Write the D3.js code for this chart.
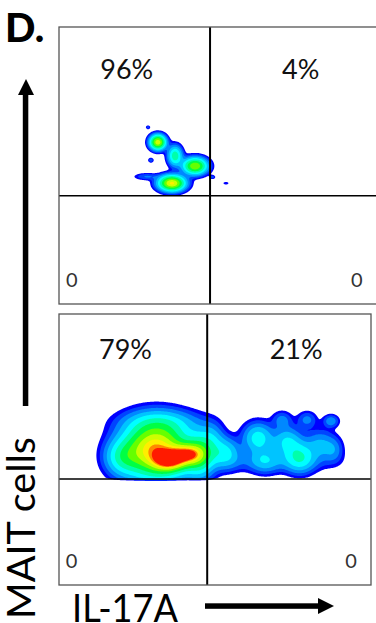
<!DOCTYPE html>
<html><head><meta charset="utf-8">
<script src="https://cdn.jsdelivr.net/npm/d3@7"></script>
<style>html,body{margin:0;padding:0;background:#fff;overflow:hidden}svg{display:block}</style>
</head><body>
<svg id="chart" width="376" height="623"></svg>
<script>
// ---------- data ----------
const panelNames = ["unstimulated", "stimulated"];
const quadUpperLeft = ["96%", "79%"];
const quadUpperRight = ["4%", "21%"];
const quadLowerLeft = ["0", "0"];
const quadLowerRight = ["0", "0"];
const xAxisLabel = "IL-17A";
const yAxisLabel = "MAIT cells";
const panelLetter = "D.";
const xGate = 47.5;   // IL-17A gate (data units 0-100)
const yGate = 39.1;   // MAIT gate (data units 0-100)
// density clusters: [IL-17A centre, MAIT centre, spread x, spread y, weight]
const clustersTop = [
  [31.1, 58.4, 1.5, 1.6, 0.75],
  [36.5, 53.5, 1.4, 2.2, 0.34],
  [42.8, 49.8, 2.3, 1.8, 0.64],
  [35.5, 43.6, 2.5, 1.7, 0.82],
  [27.5, 46.0, 2.4, 0.8, 0.07],
  [28.0, 63.8, 0.5, 0.5, 0.05],
  [28.9, 51.9, 0.6, 0.6, 0.06],
  [48.3, 45.8, 0.6, 0.5, 0.05],
  [52.5, 43.6, 0.7, 0.4, 0.04]
];
const clustersBottom = [
  [35.5, 45.8, 3.4, 2.4, 0.68],
  [41.0, 48.2, 3.4, 2.4, 0.68],
  [31.0, 50.0, 6.3, 6.2, 0.92],
  [33.0, 60.0, 8.0, 3.0, 0.12],
  [20.5, 47.0, 3.5, 4.0, 0.22],
  [45.0, 48.0, 3.0, 5.0, 0.38],
  [53.2, 48.7, 3.0, 3.5, 0.20],
  [63.8, 54.2, 3.0, 3.5, 0.22],
  [73.1, 52.8, 3.0, 3.5, 0.18],
  [77.2, 47.2, 3.0, 3.5, 0.24],
  [66.0, 46.1, 3.0, 3.0, 0.12],
  [83.7, 51.7, 3.0, 3.5, 0.12],
  [88.0, 49.8, 2.0, 3.0, 0.08],
  [71.5, 61.0, 2.0, 2.0, 0.08],
  [79.5, 61.0, 2.0, 2.0, 0.08],
  [49.0, 53.5, 2.5, 4.0, 0.12],
  [68.0, 45.5, 12.0, 2.5, 0.06],
  [87.2, 60.5, 1.6, 1.5, 0.10]
];
const clusters = [clustersTop, clustersBottom];

// ---------- layout / style ----------
const svg = d3.select("#chart");
const layout = [
  {L: 59, R: 377, T: 27, B: 304, pctY: 79},
  {L: 59, R: 371, T: 314, B: 585, pctY: 359}
];
const ramp = ["#0000ff","#0044ff","#0088ff","#00c4ff","#00ffff","#00ffaa",
              "#00ff44","#66ff00","#ccff00","#ffee00","#ff8800","#ff1a00"];
const nLev = ramp.length;
const thresholds = d3.range(nLev).map(k => Math.exp(-3.9 * Math.pow(1 - k / nLev, 2)));
const font = "Lato, 'Open Sans', sans-serif";

layout.forEach((p, pi) => {
  const x = d3.scaleLinear().domain([0, 100]).range([p.L, p.R]);
  const y = d3.scaleLinear().domain([0, 100]).range([p.B, p.T]);
  const g = svg.append("g");
  const cid = "clip" + pi;
  g.append("clipPath").attr("id", cid).append("rect")
    .attr("x", p.L).attr("y", p.T).attr("width", p.R - p.L).attr("height", p.B - p.T);

  // density grid
  const nx = Math.round(p.R - p.L), ny = Math.round(p.B - p.T);
  const vals = new Float64Array(nx * ny);
  const floor = yGate - 0.8, taper = 1.2;
  for (let j = 0; j < ny; j++) {
    const dy = y.invert(p.T + j + 0.5);
    const f = Math.max(0, Math.min(1, (dy - floor) / taper));
    if (f === 0) continue;
    for (let i = 0; i < nx; i++) {
      const dx = x.invert(p.L + i + 0.5);
      let s = 0;
      for (const c of clusters[pi]) {
        const u = (dx - c[0]) / c[2], v = (dy - c[1]) / c[3];
        s += c[4] * Math.exp(-0.5 * (u * u + v * v));
      }
      vals[j * nx + i] = s * f;
    }
  }
  const conts = d3.contours().size([nx, ny]).thresholds(thresholds)(vals);
  const path = d3.geoPath(d3.geoIdentity().translate([p.L, p.T]));
  g.append("g").attr("clip-path", `url(#${cid})`)
    .selectAll("path").data(conts).join("path")
    .attr("d", path)
    .attr("fill", (d, k) => ramp[k]);

  // gates
  g.append("line").attr("x1", x(xGate)).attr("x2", x(xGate)).attr("y1", p.T).attr("y2", p.B)
    .attr("stroke", "#000").attr("stroke-width", 2);
  g.append("line").attr("x1", p.L).attr("x2", p.R).attr("y1", y(yGate)).attr("y2", y(yGate))
    .attr("stroke", "#000").attr("stroke-width", 1.6);
  // frame
  g.append("rect").attr("x", p.L).attr("y", p.T).attr("width", p.R - p.L).attr("height", p.B - p.T)
    .attr("fill", "none").attr("stroke", "#555").attr("stroke-width", 1.3);

  // quadrant labels
  g.append("text").attr("x", x(21.3)).attr("y", p.pctY).attr("text-anchor", "middle")
    .attr("font-family", font).attr("font-size", 27).attr("fill", "#111").text(quadUpperLeft[pi]);
  g.append("text").attr("x", x(76)).attr("y", p.pctY).attr("text-anchor", "middle")
    .attr("font-family", font).attr("font-size", 27).attr("fill", "#111").text(quadUpperRight[pi]);
  g.append("text").attr("x", x(2.2)).attr("y", y(6.2)).attr("text-anchor", "start")
    .attr("font-family", font).attr("font-size", 20).attr("fill", "#333").text(quadLowerLeft[pi]);
  g.append("text").attr("x", x(95.5)).attr("y", y(6.2)).attr("text-anchor", "end")
    .attr("font-family", font).attr("font-size", 20).attr("fill", "#333").text(quadLowerRight[pi]);
});

// panel letter
svg.append("text").attr("x", 5).attr("y", 42).attr("font-family", font).attr("font-weight", 900)
  .attr("font-size", 40).attr("fill", "#000").text(panelLetter);

// y axis arrow + label
svg.append("rect").attr("x", 22.8).attr("y", 92).attr("width", 5.5).attr("height", 314).attr("fill", "#000");
svg.append("path").attr("d", "M26,79 L34,95 L18,95 Z").attr("fill", "#000");
svg.append("text").attr("transform", "translate(35,619) rotate(-90)")
  .attr("font-family", font).attr("font-size", 39).attr("fill", "#000")
  .attr("textLength", 182).attr("lengthAdjust", "spacingAndGlyphs").text(yAxisLabel);

// x axis label + arrow
svg.append("text").attr("x", 72).attr("y", 622).attr("font-family", font).attr("font-size", 39)
  .attr("fill", "#000").attr("textLength", 106).attr("lengthAdjust", "spacingAndGlyphs").text(xAxisLabel);
svg.append("rect").attr("x", 205).attr("y", 603.3).attr("width", 115).attr("height", 5.5).attr("fill", "#000");
svg.append("path").attr("d", "M334,606 L318,598 L318,614 Z").attr("fill", "#000");
</script>
</body></html>
